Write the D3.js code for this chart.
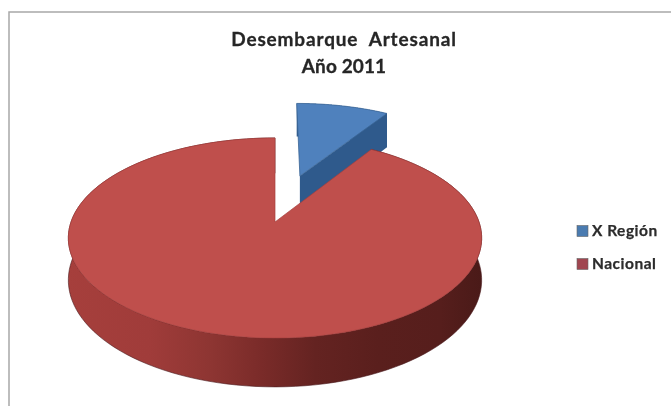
<!DOCTYPE html>
<html><head><meta charset="utf-8">
<script src="https://cdnjs.cloudflare.com/ajax/libs/d3/7.8.5/d3.min.js"></script>
<style>html,body{margin:0;padding:0;background:#fff}svg{display:block;filter:blur(.7px)}</style>
</head><body><svg id="c" width="671" height="406"></svg>
<script>
const categories = ["X Región", "Nacional"];
const values = [9, 91];
const titleLines = ["Desembarque  Artesanal", "Año 2011"];
const topColors = ["#4f81bd", "#bf4f4c"];
const cutColor = "#2f5a8c";
const legendColors = ["#4a7bb0", "#a04650"];

const svg = d3.select("#c");
const cx = 275, cy = 222, rx = 204, ry = 97.5, k = 0.16, depth = 41;
const project = (u, v, z = 0) => {
  const s = 1 / (1 + k * v);
  return [cx + rx * u * s, cy - ry * v * s + depth * z * s];
};
const arcs = d3.pie().sort(null).startAngle(0).endAngle(2 * Math.PI)(values);
const offsets = [[0.132, 0.51], [0, 0]];
const rimPts = (a, off, z, rev) => {
  const n = 140, out = [];
  for (let i = 0; i <= n; i++) {
    const t = a.startAngle + (a.endAngle - a.startAngle) * (rev ? n - i : i) / n;
    out.push(project(off[0] + Math.sin(t), off[1] + Math.cos(t), z));
  }
  return out;
};
const line = d3.line();
const defs = svg.append("defs");
const g = defs.append("linearGradient").attr("id", "side").attr("gradientUnits", "userSpaceOnUse")
  .attr("x1", 66).attr("x2", 482).attr("y1", 0).attr("y2", 0);
[[0, "#a63f3c"], [.2, "#a03c3a"], [.35, "#8d3532"], [.47, "#7a2b29"], [.6, "#642321"], [.75, "#5a1f1d"], [.9, "#561e1c"], [1, "#4a1a18"]]
  .forEach(d => g.append("stop").attr("offset", d[0]).attr("stop-color", d[1]));

// frame
svg.append("path").attr("d", "M9,406V12H671").attr("fill", "none").attr("stroke", "#a8a8a8").attr("stroke-width", 1.5);

// blue slice
const ba = arcs[0], bo = offsets[0];
svg.append("path").attr("d", line([...rimPts(ba, bo, 0), ...rimPts(ba, bo, 1, true)]) + "Z")
  .attr("fill", cutColor);
const bRim = project(bo[0] + Math.sin(ba.endAngle), bo[1] + Math.cos(ba.endAngle), 0);
const bRimB = project(bo[0] + Math.sin(ba.endAngle), bo[1] + Math.cos(ba.endAngle), 1);
svg.append("path").attr("d", line([project(bo[0], bo[1], 0), bRim, bRimB, project(bo[0], bo[1], 1)]) + "Z")
  .attr("fill", cutColor);
svg.append("path").attr("d", line([project(bo[0], bo[1], 0), ...rimPts(ba, bo, 0)]) + "Z")
  .attr("fill", topColors[0]).attr("stroke", "#3a6494").attr("stroke-width", .8);

// red slice
const ra = arcs[1], ro = offsets[1];
svg.append("path").attr("d", line([...rimPts(ra, ro, 0), ...rimPts(ra, ro, 1, true)]) + "Z")
  .attr("fill", "url(#side)").attr("stroke", "#4a1a1c").attr("stroke-width", .6);
svg.append("path").attr("d", line([project(0, 0, 0), ...rimPts(ra, ro, 0)]) + "Z")
  .attr("fill", topColors[1]).attr("stroke", "#a83f3c").attr("stroke-width", .7);

// title
svg.append("g").selectAll("text").data(titleLines).join("text")
  .attr("x", 344).attr("y", (d, i) => 46 + i * 27)
  .attr("text-anchor", "middle").attr("font-family", "Lato").attr("font-weight", 700)
  .attr("font-size", 19).attr("letter-spacing", (d, i) => i ? 0.1 : 0.85).attr("fill", "#262626")
  .attr("stroke", "#262626").attr("stroke-width", .3)
  .style("white-space", "pre").text(d => d);

// legend
const ly = d3.scalePoint().domain(categories).range([231, 264]);
const leg = svg.append("g").selectAll("g").data(categories).join("g")
  .attr("transform", d => `translate(577,${ly(d)})`);
leg.append("rect").attr("x", 0).attr("y", -5.5).attr("width", 11).attr("height", 11)
  .attr("fill", (d, i) => legendColors[i]).attr("stroke", "#666").attr("stroke-width", .6);
leg.append("text").attr("x", 15).attr("y", 5).attr("font-family", "Lato").attr("font-weight", 700)
  .attr("font-size", 15.5).attr("letter-spacing", 0.5).attr("fill", "#2c2c2c")
  .attr("stroke", "#2c2c2c").attr("stroke-width", .25).text(d => d);
</script></body></html>
